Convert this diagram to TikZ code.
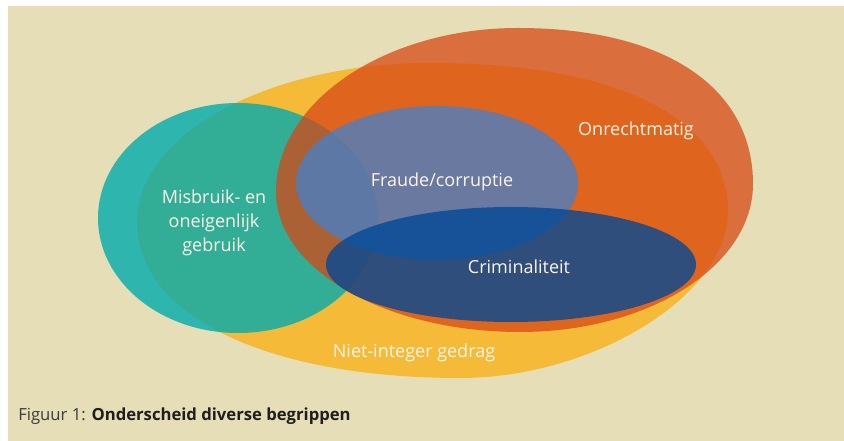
\documentclass[tikz,border=0pt]{standalone}
\usepackage{fontspec}
\setmainfont{Open Sans}
\definecolor{bg}{RGB}{230,222,182}
\definecolor{cyel}{RGB}{245,186,56}
\definecolor{cteal}{RGB}{0,172,173}
\definecolor{corng}{RGB}{216,71,20}
\definecolor{cfraude}{RGB}{67,129,203}
\definecolor{ccrim}{RGB}{0,72,151}
\definecolor{ctxt}{RGB}{252,244,232}
\definecolor{capgrey}{RGB}{60,60,60}
\definecolor{capdark}{RGB}{30,30,30}
\tikzset{
  lbl/.style={text=ctxt, font=\fontsize{13.5}{18}\selectfont, inner sep=0pt},
}
\begin{document}
\begin{tikzpicture}[x=0.75pt,y=-0.75pt]
\fill[white] (0,0) rectangle (844,441);
\useasboundingbox (0,0) rectangle (844,441);
\fill[bg] (8,6) rectangle (844,441);
% Niet-integer gedrag
\fill[cyel] (137,222) .. controls (137,134.2) and (268.3,63) .. (430,63)
  .. controls (618,63) and (728,118) .. (728,212)
  .. controls (728,295) and (594,378) .. (460,378)
  .. controls (266.2,378) and (137,315.6) .. cycle;
% Misbruik- en oneigenlijk gebruik
\fill[cteal, fill opacity=0.8] (238,218) ellipse [x radius=140, y radius=115];
% Onrechtmatig
\fill[corng, fill opacity=0.74] (276,192) .. controls (276,101.5) and (385.3,28) .. (518,28)
  .. controls (666,28) and (753,88) .. (753,184)
  .. controls (753,266) and (648.6,332) .. (520,332)
  .. controls (385.3,332) and (276,269.3) .. cycle;
% Fraude/corruptie
\fill[cfraude, fill opacity=0.75] (437,183) ellipse [x radius=141, y radius=77];
% Criminaliteit
\fill[ccrim, fill opacity=0.78] (511,264.5) ellipse [x radius=185, y radius=57.5];

\node[lbl, anchor=base] (onr) at (636,136) {Onrechtmatig};
\node[lbl, anchor=base] (fra) at (442,187) {Fraude/corruptie};
\node[lbl, anchor=base] (cri) at (519,274) {Criminaliteit};
\node[lbl, anchor=base] (nie) at (414,358) {Niet-integer gedrag};
\node[lbl, align=center, anchor=center] (mis) at (214,223) {Misbruik- en\\oneigenlijk\\gebruik};
\node[anchor=base west, inner sep=0pt, font=\fontsize{12.5}{15}\selectfont] (cap) at (18,421)
  {\textcolor{capgrey}{Figuur 1:} \textcolor{capdark}{\bfseries Onderscheid diverse begrippen}};
\end{tikzpicture}
\end{document}
